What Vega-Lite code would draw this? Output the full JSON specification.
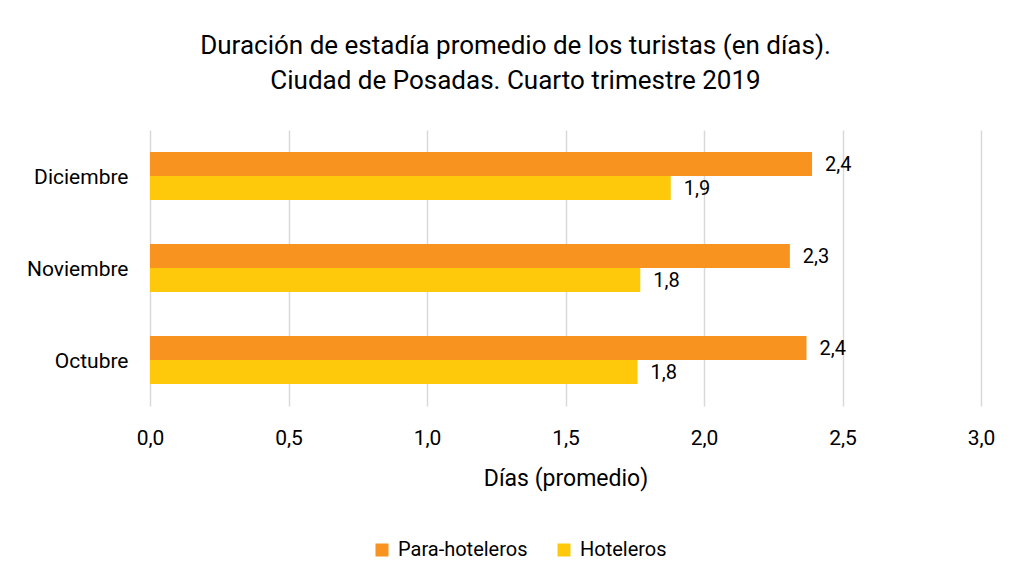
{
  "$schema": "https://vega.github.io/schema/vega-lite/v6.json",
  "width": 831,
  "height": 276,
  "autosize": {"type": "none"},
  "padding": {"left": 150, "top": 130, "right": 31, "bottom": 176},
  "background": "white",
  "config": {
    "locale": {"number": {"decimal": ",", "thousands": ".", "grouping": [3], "currency": ["$", ""]}},
    "font": "Roboto",
    "view": {"stroke": null}
  },
  "title": {
    "text": ["Duración de estadía promedio de los turistas (en días).", "Ciudad de Posadas. Cuarto trimestre 2019"],
    "fontSize": 26,
    "fontWeight": "normal",
    "font": "Roboto",
    "color": "#000000",
    "anchor": "middle",
    "dx": -50,
    "offset": 36,
    "lineHeight": 35
  },
  "data": {
    "values": [
      {"mes": "Diciembre", "tipo": "Para-hoteleros", "valor": 2.39},
      {"mes": "Diciembre", "tipo": "Hoteleros", "valor": 1.88},
      {"mes": "Noviembre", "tipo": "Para-hoteleros", "valor": 2.31},
      {"mes": "Noviembre", "tipo": "Hoteleros", "valor": 1.77},
      {"mes": "Octubre", "tipo": "Para-hoteleros", "valor": 2.37},
      {"mes": "Octubre", "tipo": "Hoteleros", "valor": 1.76}
    ]
  },
  "encoding": {
    "y": {
      "field": "mes",
      "type": "nominal",
      "sort": ["Diciembre", "Noviembre", "Octubre"],
      "scale": {"paddingInner": 0.48, "paddingOuter": 0.24},
      "axis": {"title": null, "domain": false, "ticks": false, "labelFontSize": 21, "labelColor": "#000000", "labelPadding": 22, "labelFont": "Roboto", "labelOffset": 2}
    },
    "yOffset": {"field": "tipo", "type": "nominal", "sort": ["Para-hoteleros", "Hoteleros"], "scale": {"paddingInner": 0, "paddingOuter": 0}},
    "x": {
      "field": "valor",
      "type": "quantitative",
      "scale": {"domain": [0, 3], "nice": false},
      "axis": {"title": "Días (promedio)", "values": [0, 0.5, 1, 1.5, 2, 2.5, 3], "format": ".1f", "labelFlush": false, "domain": false, "ticks": false, "grid": true, "gridColor": "#d9d9d9", "gridWidth": 1.5, "labelFontSize": 21, "labelColor": "#000000", "labelPadding": 21, "titleFontSize": 23, "titleFontWeight": "normal", "titleColor": "#000000", "titlePadding": 19, "labelFont": "Roboto", "titleFont": "Roboto"}
    }
  },
  "layer": [
    {
      "mark": {"type": "bar"},
      "encoding": {
        "color": {
          "field": "tipo",
          "type": "nominal",
          "sort": ["Para-hoteleros", "Hoteleros"],
          "scale": {"domain": ["Para-hoteleros", "Hoteleros"], "range": ["#F7931E", "#FFC90B"]},
          "legend": {"title": null, "orient": "none", "direction": "horizontal", "legendX": 222, "legendY": 410, "symbolType": "square", "symbolSize": 169, "symbolStrokeWidth": 0, "labelFontSize": 20, "labelColor": "#000000", "labelFont": "Roboto", "columnPadding": 26, "labelOffset": 6}
        }
      }
    },
    {
      "mark": {"type": "text", "align": "left", "dx": 13, "dy": 1, "fontSize": 20, "color": "#000000", "font": "Roboto"},
      "encoding": {"text": {"field": "valor", "type": "quantitative", "format": ".1f"}}
    }
  ]
}
